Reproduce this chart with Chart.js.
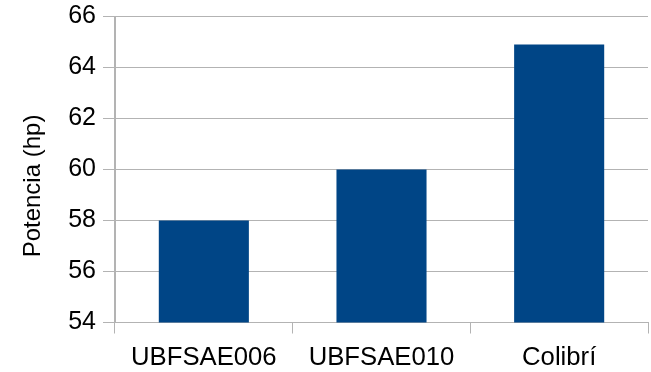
<!DOCTYPE html>
<html>
<head>
<meta charset="utf-8">
<script src="https://cdn.jsdelivr.net/npm/chart.js@4/dist/chart.umd.min.js"></script>
<style>
  html, body { margin: 0; padding: 0; background: #fff; }
  #wrap { width: 651px; height: 372px; }
</style>
</head>
<body>
<div id="wrap"><canvas id="c" width="651" height="372"></canvas></div>
<script>
// Engine power per car
const categories = ['UBFSAE006', 'UBFSAE010', 'Colibrí'];
const potencia = [58, 60, 64.9];
const yMin = 54;
const yMax = 66;
const yStep = 2;
const yTitle = 'Potencia (hp)';

const gridColor = '#b3b3b3';
const fontFamily = "'Liberation Sans', Arial, sans-serif";

// Vertical axis title, drawn beside the value axis
const yTitlePlugin = {
  id: 'yTitle',
  afterDraw(chart) {
    const ctx = chart.ctx;
    ctx.save();
    ctx.translate(33, 186);
    ctx.rotate(-Math.PI / 2);
    ctx.font = '24px ' + fontFamily;
    ctx.fillStyle = '#000';
    ctx.textAlign = 'center';
    ctx.textBaseline = 'middle';
    ctx.fillText(yTitle, 0, 0);
    ctx.restore();
  }
};

new Chart(document.getElementById('c'), {
  type: 'bar',
  data: {
    labels: categories,
    datasets: [{
      data: potencia,
      backgroundColor: '#004586',
      borderWidth: 0,
      categoryPercentage: 1,
      barPercentage: 0.507
    }]
  },
  options: {
    responsive: false,
    animation: false,
    devicePixelRatio: 1,
    layout: { padding: { top: 16.5, right: 3, left: 0, bottom: 0 } },
    plugins: { legend: { display: false }, tooltip: { enabled: false } },
    scales: {
      x: {
        offset: true,
        grid: {
          offset: true,
          color: ctx => (ctx.index === 0 || ctx.index === categories.length) ? gridColor : 'rgba(0,0,0,0)',
          tickColor: gridColor,
          tickLength: 11,
          lineWidth: 1
        },
        border: { display: true, color: gridColor },
        ticks: { color: '#000', font: { family: fontFamily, size: 25.7 }, padding: 9 },
        afterFit: s => { s.height = 49.5; s.paddingLeft = 0; s.paddingRight = 0; }
      },
      y: {
        min: yMin,
        max: yMax,
        grid: { color: gridColor, tickColor: gridColor, tickLength: 12, lineWidth: 1 },
        border: { display: true, color: gridColor },
        ticks: { stepSize: yStep, color: '#000', font: { family: fontFamily, size: 25 }, padding: 7 },
        afterFit: s => { s.width = 115; s.paddingTop = 0; s.paddingBottom = 0; }
      }
    }
  },
  plugins: [yTitlePlugin]
});
</script>
</body>
</html>
